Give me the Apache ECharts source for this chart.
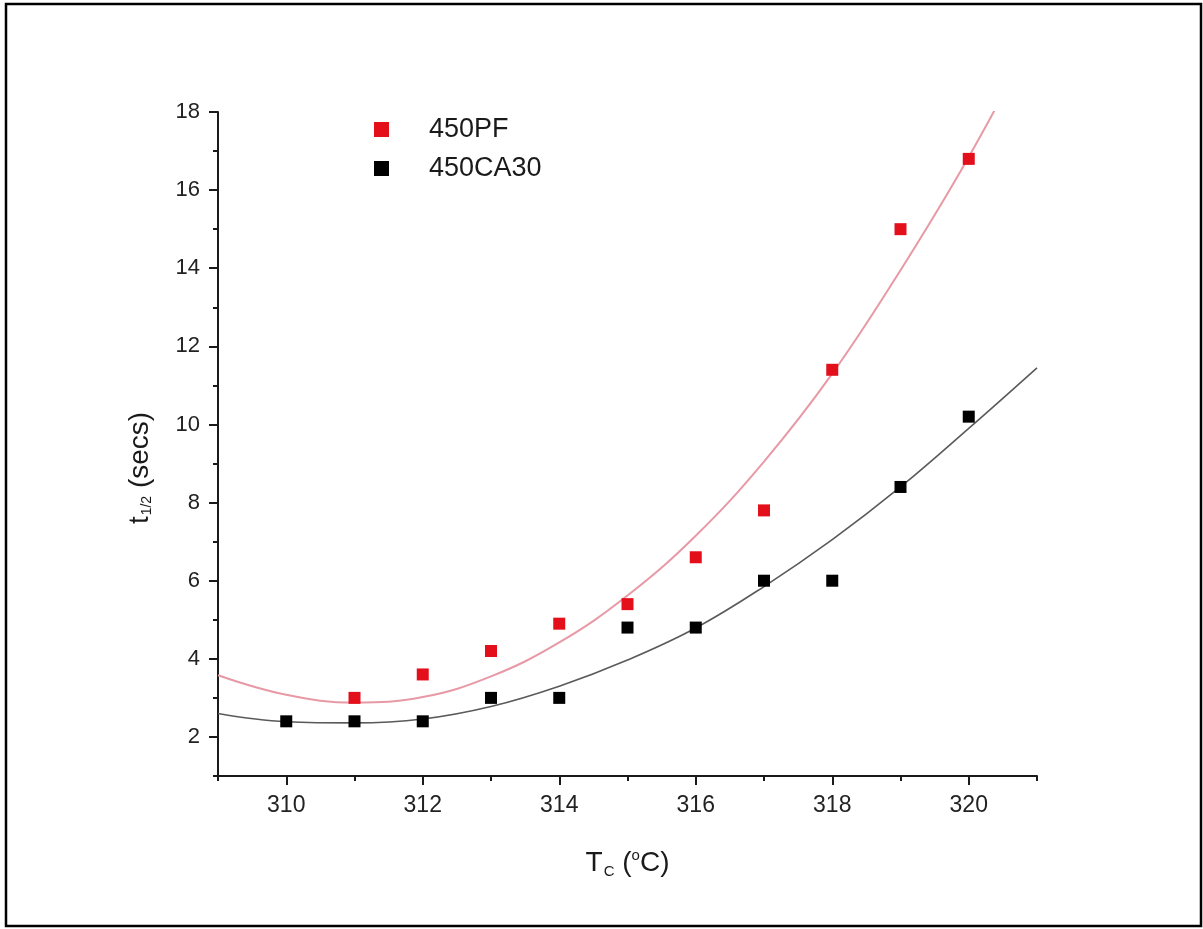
<!DOCTYPE html>
<html>
<head>
<meta charset="utf-8">
<script src="https://cdn.jsdelivr.net/npm/echarts@6/dist/echarts.min.js"></script>
<style>
html,body{margin:0;padding:0;background:#fff;}
#chart{width:1203px;height:929px;}
</style>
</head>
<body>
<div id="chart"></div>
<script>
// ---- data ----
const pfTemps = [311, 312, 313, 314, 315, 316, 317, 318, 319, 320];
const pfHalfTimes = [3.0, 3.6, 4.2, 4.9, 5.4, 6.6, 7.8, 11.4, 15.0, 16.8];
const caTemps = [310, 311, 312, 313, 314, 315, 316, 317, 318, 319, 320];
const caHalfTimes = [2.4, 2.4, 2.4, 3.0, 3.0, 4.8, 4.8, 6.0, 6.0, 8.4, 10.2];
// fitted curves
const fitTemps = [309, 310, 311, 312, 313, 314, 315, 316, 317, 318, 319, 320, 321];
const pfFit = [3.58, 3.08, 2.88, 3.02, 3.55, 4.42, 5.62, 7.15, 9.05, 11.3, 13.95, 16.85, 20.1];
const caFit = [2.6, 2.39, 2.36, 2.46, 2.78, 3.3, 3.97, 4.79, 5.85, 7.05, 8.4, 9.9, 11.45];
const xMajorTicks = [310, 312, 314, 316, 318, 320];
const xMinorTicks = [309, 311, 313, 315, 317, 319, 321];
const yMajorTicks = [2, 4, 6, 8, 10, 12, 14, 16, 18];
const yMinorTicks = [1, 3, 5, 7, 9, 11, 13, 15, 17];
const seriesNames = ['450PF', '450CA30'];

const FONT = 'Liberation Sans, Arial, sans-serif';
const zip = (xs, ys) => xs.map((x, i) => [x, ys[i]]);

const chart = echarts.init(document.getElementById('chart'), null, {renderer: 'canvas'});
const axisColor = '#1a1a1a';

chart.setOption({
  backgroundColor: '#fff',
  animation: false,
  grid: {left: 218, right: 166, top: 112, bottom: 153},
  graphic: [{
    type: 'rect',
    shape: {x: 6, y: 4, width: 1195, height: 922},
    style: {fill: 'none', stroke: '#000', lineWidth: 2.5},
    silent: true
  }],
  legend: {
    data: seriesNames,
    orient: 'vertical',
    left: 374,
    top: 116,
    padding: 0,
    itemWidth: 15,
    itemHeight: 15,
    itemGap: 12,
    textStyle: {fontFamily: FONT, fontSize: 27, color: '#1a1a1a', padding: [0, 0, 0, 35], lineHeight: 27}
  },
  xAxis: [{
    type: 'value', min: 309, max: 321,
    name: '{t|T}{s|C}{t| (}{p|o}{t|C)}',
    nameLocation: 'middle', nameGap: 72,
    nameTextStyle: {
      rich: {
        t: {fontFamily: FONT, fontSize: 28, color: '#1a1a1a'},
        s: {fontFamily: FONT, fontSize: 15, color: '#1a1a1a', verticalAlign: 'bottom', padding: [16, 0, 0, 1]},
        p: {fontFamily: FONT, fontSize: 15, color: '#1a1a1a', verticalAlign: 'top', padding: [0, 0, 16, 0]}
      }
    },
    axisLine: {show: true, onZero: false, lineStyle: {color: axisColor, width: 2}},
    axisTick: {show: true, length: 9, customValues: xMajorTicks, lineStyle: {color: axisColor, width: 2}},
    axisLabel: {customValues: xMajorTicks, margin: 18, fontFamily: FONT, fontSize: 23, color: '#222'},
    splitLine: {show: false}
  }, {
    type: 'value', min: 309, max: 321, position: 'bottom', gridIndex: 0,
    axisLine: {show: false, onZero: false},
    axisTick: {show: true, length: 5, customValues: xMinorTicks, lineStyle: {color: axisColor, width: 2}},
    axisLabel: {show: false},
    splitLine: {show: false}
  }],
  yAxis: [{
    type: 'value', min: 1, max: 18,
    name: '{t|t}{s|1/2}{t| (secs)}',
    nameLocation: 'middle', nameGap: 64, nameRotate: 90,
    nameTextStyle: {
      padding: [0, 48, 0, 0],
      rich: {
        t: {fontFamily: FONT, fontSize: 28, color: '#1a1a1a'},
        s: {fontFamily: FONT, fontSize: 14, color: '#1a1a1a', verticalAlign: 'bottom', padding: [14, 0, 0, 1]}
      }
    },
    axisLine: {show: true, onZero: false, lineStyle: {color: axisColor, width: 2}},
    axisTick: {show: true, length: 9, customValues: yMajorTicks, lineStyle: {color: axisColor, width: 2}},
    axisLabel: {customValues: yMajorTicks, margin: 18, fontFamily: FONT, fontSize: 22, color: '#222'},
    splitLine: {show: false}
  }, {
    type: 'value', min: 1, max: 18, position: 'left', gridIndex: 0,
    axisLine: {show: false, onZero: false},
    axisTick: {show: true, length: 5, customValues: yMinorTicks, lineStyle: {color: axisColor, width: 2}},
    axisLabel: {show: false},
    splitLine: {show: false}
  }],
  series: [{
    name: '450PF-fit', type: 'line', data: zip(fitTemps, pfFit),
    smooth: 0.4, showSymbol: false, clip: true, silent: true,
    lineStyle: {color: '#e79aa6', width: 2}, z: 1
  }, {
    name: '450CA30-fit', type: 'line', data: zip(fitTemps, caFit),
    smooth: 0.4, showSymbol: false, clip: true, silent: true,
    lineStyle: {color: '#5a5a5a', width: 1.6}, z: 1
  }, {
    name: seriesNames[0], type: 'scatter', data: zip(pfTemps, pfHalfTimes),
    symbol: 'rect', symbolSize: 12, itemStyle: {color: '#e3101c', opacity: 1}, z: 3
  }, {
    name: seriesNames[1], type: 'scatter', data: zip(caTemps, caHalfTimes),
    symbol: 'rect', symbolSize: 12, itemStyle: {color: '#000', opacity: 1}, z: 3
  }]
});
</script>
</body>
</html>
